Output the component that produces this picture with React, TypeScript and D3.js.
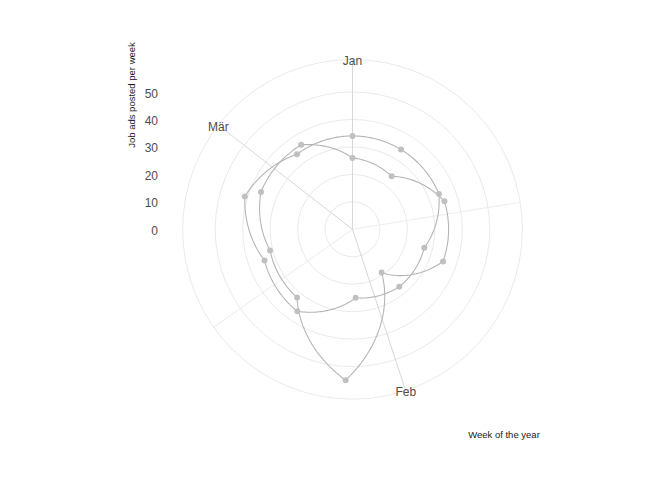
import * as d3 from "d3";

// day offsets from 1 Jan, one point per week
const daysA = [0, 7, 14, 21, 28, 35, 42, 49, 56, 63];
const adsA = [26, 24, 35, 35, 19, 55, 32, 31, 36, 36];
const daysB = [6, 13, 20, 27, 34, 41, 48, 55, 62, 69];
const adsB = [34, 34, 27, 27, 25, 36, 34, 41, 34, 34];

const monthDays = [0, 31, 59];
const monthLabels = ["Jan", "Feb", "Mär"];
const minorDays = [15.5, 45];
const yTicks = [0, 10, 20, 30, 40, 50];

const W = 672;
const H = 480;
const cx = 352.5;
const cy = 229.3;
const rData = 151;
const rOuter = (rData * 0.45) / 0.4;

const theta = d3.scaleLinear().domain([0, 69]).range([0, 2 * Math.PI]);
const r = d3.scaleLinear().domain([0, 55]).range([0, rData]);

type Pt = { d: number; v: number };

// ggplot-style munching: interpolate linearly in (day, value) space
function munch(pts: Pt[]): Pt[] {
  const out: Pt[] = [];
  for (let i = 0; i < pts.length - 1; i++) {
    const a = pts[i];
    const b = pts[i + 1];
    const n = 40;
    for (let k = 0; k < n; k++) {
      const t = k / n;
      out.push({ d: a.d + (b.d - a.d) * t, v: a.v + (b.v - a.v) * t });
    }
  }
  out.push(pts[pts.length - 1]);
  return out;
}

const seriesA: Pt[] = daysA.map((d, i) => ({ d, v: adsA[i] }));
const seriesB: Pt[] = daysB.map((d, i) => ({ d, v: adsB[i] }));

// both series wrap round the circle
const loopA = [...seriesA, { d: 69, v: adsA[0] }];
const loopB = [{ d: 0, v: adsB[adsB.length - 1] }, ...seriesB];

const radial = d3
  .lineRadial<Pt>()
  .angle((p) => theta(p.d))
  .radius((p) => r(p.v));

const pos = (d: number, rad: number): [number, number] => [
  Math.sin(theta(d)) * rad,
  -Math.cos(theta(d)) * rad,
];

const FONT = "Liberation Sans, Arial, sans-serif";

export default function App() {
  return (
    <svg
      width={W}
      height={H}
      style={{ position: "absolute", left: 0, top: 0, background: "#fff" }}
      fontFamily={FONT}
    >
      <g transform={`translate(${cx},${cy})`}>
        {/* circles */}
        {yTicks.slice(1).map((t) => (
          <circle key={t} r={r(t)} fill="none" stroke="#e6e6e6" strokeWidth={0.9} />
        ))}
        <circle r={rOuter} fill="none" stroke="#e6e6e6" strokeWidth={0.9} />

        {/* theta grid */}
        {minorDays.map((d) => {
          const [x, y] = pos(d, rOuter);
          return <line key={d} x1={0} y1={0} x2={x} y2={y} stroke="#eaeaea" strokeWidth={0.9} />;
        })}
        {monthDays.map((d) => {
          const [x, y] = pos(d, rOuter);
          return <line key={d} x1={0} y1={0} x2={x} y2={y} stroke="#d2d2d2" strokeWidth={0.9} />;
        })}

        {/* series */}
        {[munch(loopA), munch(loopB)].map((pts, i) => (
          <path key={i} d={radial(pts) ?? ""} fill="none" stroke="#b5b5b5" strokeWidth={1.1} />
        ))}
        {[...seriesA, ...seriesB].map((p, i) => {
          const [x, y] = pos(p.d, r(p.v));
          return <circle key={i} cx={x} cy={y} r={3} fill="#c0c0c0" />;
        })}

        {/* month labels */}
        {monthDays.map((d, i) => {
          const [x, y] = pos(d, rOuter);
          return (
            <text
              key={d}
              x={x}
              y={y + 1.5}
              textAnchor="middle"
              dominantBaseline="central"
              fontSize={12}
              fill="#4d4d4d"
            >
              {monthLabels[i]}
            </text>
          );
        })}
      </g>

      {/* y axis labels */}
      {yTicks.map((t) => (
        <text
          key={t}
          x={158}
          y={cy - r(t) + 1.5}
          textAnchor="end"
          dominantBaseline="central"
          fontSize={12}
          fill="#4d4d4d"
        >
          {t}
        </text>
      ))}

      <text
        transform="translate(131,95) rotate(-90)"
        textAnchor="middle"
        dominantBaseline="central"
        fontSize={9.5}
        fill="#1a1a1a"
      >
        Job ads posted per week
      </text>
      <text x={504} y={434} textAnchor="middle" dominantBaseline="central" fontSize={9.5} fill="#1a1a1a">
        Week of the year
      </text>
    </svg>
  );
}
